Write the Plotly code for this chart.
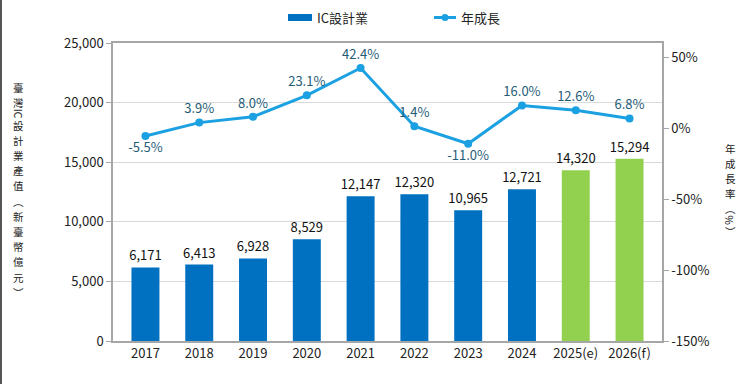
import plotly.graph_objects as go

years = ["2017", "2018", "2019", "2020", "2021", "2022", "2023", "2024", "2025(e)", "2026(f)"]
output_values = [6171, 6413, 6928, 8529, 12147, 12320, 10965, 12721, 14320, 15294]
growth_pct = [-5.5, 3.9, 8.0, 23.1, 42.4, 1.4, -11.0, 16.0, 12.6, 6.8]
bar_colors = ["#0070C0"] * 8 + ["#92D050"] * 2
left_ticks = [0, 5000, 10000, 15000, 20000, 25000]
right_ticks = [-150, -100, -50, 0, 50]

FONT = "Noto Sans CJK TC, Noto Sans, sans-serif"
BAR_BLUE = "#0070C0"
LINE_BLUE = "#1BA1E2"

fig = go.Figure()
fig.add_trace(go.Bar(
    x=years, y=output_values, name="IC設計業",
    marker=dict(color=bar_colors, line=dict(width=0)),
    text=[f"{v:,}" for v in output_values], textposition="outside",
    constraintext="none",
    textfont=dict(size=13, color="#111111", family=FONT),
    cliponaxis=False, yaxis="y",
))
fig.add_trace(go.Scatter(
    x=years, y=growth_pct, name="年成長", mode="lines+markers+text",
    line=dict(color=LINE_BLUE, width=3), marker=dict(size=8, color=LINE_BLUE),
    text=[f"{v:.1f}%" for v in growth_pct],
    textposition=["bottom center" if v < 0 else "top center" for v in growth_pct],
    textfont=dict(size=13, color="#1F5C78", family=FONT),
    cliponaxis=False, yaxis="y2",
))

L, R, T, B = 113, 88, 43, 43
W, H = 750, 384
pw, ph = W - L - R, H - T - B

def px(x):
    return (x - L) / pw

def py(y):
    return (H - B - y) / ph

title_font = dict(size=10.5, color="#222222", family=FONT)

def vchar(text, x, y, angle=0):
    return dict(text=text, x=px(x), y=py(y), xref="paper", yref="paper",
                xanchor="center", yanchor="middle", showarrow=False,
                textangle=angle, font=title_font, borderpad=0)

def vertical_title(items, x, y0):
    out = []
    y = y0
    prev_rot = None
    for i, (txt, rot) in enumerate(items):
        if i > 0:
            y += 11.5 if (rot or prev_rot) else 15.2
        out.append(vchar(txt, x, y, 90 if rot else 0))
        prev_rot = rot
    return out

left_items = [("臺", False), ("灣", False), ("IC", True)] + [(c, False) for c in "設計業產值︵新臺幣億元︶"]
right_items = [(c, False) for c in "年成長率︵"] + [("%", True), ("︶", False)]

annotations = vertical_title(left_items, 18, 87) + vertical_title(right_items, 730, 148)
annotations += [
    dict(text="IC設計業", x=px(315), y=py(17), xref="paper", yref="paper",
         xanchor="left", yanchor="middle", showarrow=False,
         font=dict(size=13, color="#222222", family=FONT)),
    dict(text="年成長", x=px(459), y=py(17), xref="paper", yref="paper",
         xanchor="left", yanchor="middle", showarrow=False,
         font=dict(size=13, color="#222222", family=FONT)),
]

shapes = [
    dict(type="line", xref="paper", yref="paper", x0=px(1), x1=px(1), y0=py(0), y1=py(384),
         line=dict(color="#555555", width=2)),
    dict(type="rect", xref="paper", yref="paper", x0=px(288), x1=px(312), y0=py(21), y1=py(14),
         fillcolor=BAR_BLUE, line=dict(width=0)),
    dict(type="line", xref="paper", yref="paper", x0=px(434), x1=px(456), y0=py(17.5), y1=py(17.5),
         line=dict(color=LINE_BLUE, width=3)),
    dict(type="circle", xref="paper", yref="paper", x0=px(441.5), x1=px(448.5), y0=py(21), y1=py(14),
         fillcolor=LINE_BLUE, line=dict(width=0)),
]

fig.update_layout(
    width=W, height=H,
    margin=dict(l=L, r=R, t=T, b=B, pad=0),
    paper_bgcolor="white", plot_bgcolor="white",
    font=dict(family=FONT, size=13, color="#222222"),
    bargap=0.48,
    showlegend=False,
    xaxis=dict(showline=True, linecolor="#A6A6A6", linewidth=1.5, mirror=True,
               ticks="", tickfont=dict(size=13, color="#222222"), showgrid=False,
               automargin=False),
    yaxis=dict(range=[0, 25000], tickvals=left_ticks, tickformat=",",
               showgrid=True, gridcolor="#D9D9D9", gridwidth=1,
               showline=True, linecolor="#A6A6A6", linewidth=1.5,
               ticks="outside", ticklen=5, tickcolor="#A6A6A6",
               tickfont=dict(size=13, color="#222222"), zeroline=False, automargin=False),
    yaxis2=dict(range=[-150, 60], tickvals=right_ticks, ticktext=[f"{v}%" for v in right_ticks],
                overlaying="y", side="right", showgrid=False,
                showline=True, linecolor="#A6A6A6", linewidth=1.5,
                ticks="outside", ticklen=5, tickcolor="#A6A6A6",
                tickfont=dict(size=13, color="#222222"), zeroline=False, automargin=False),
    annotations=annotations,
    shapes=shapes,
)

fig.write_html("out.html", config={"displayModeBar": False},
               post_script="document.body.style.margin='0';document.body.style.padding='0';")
